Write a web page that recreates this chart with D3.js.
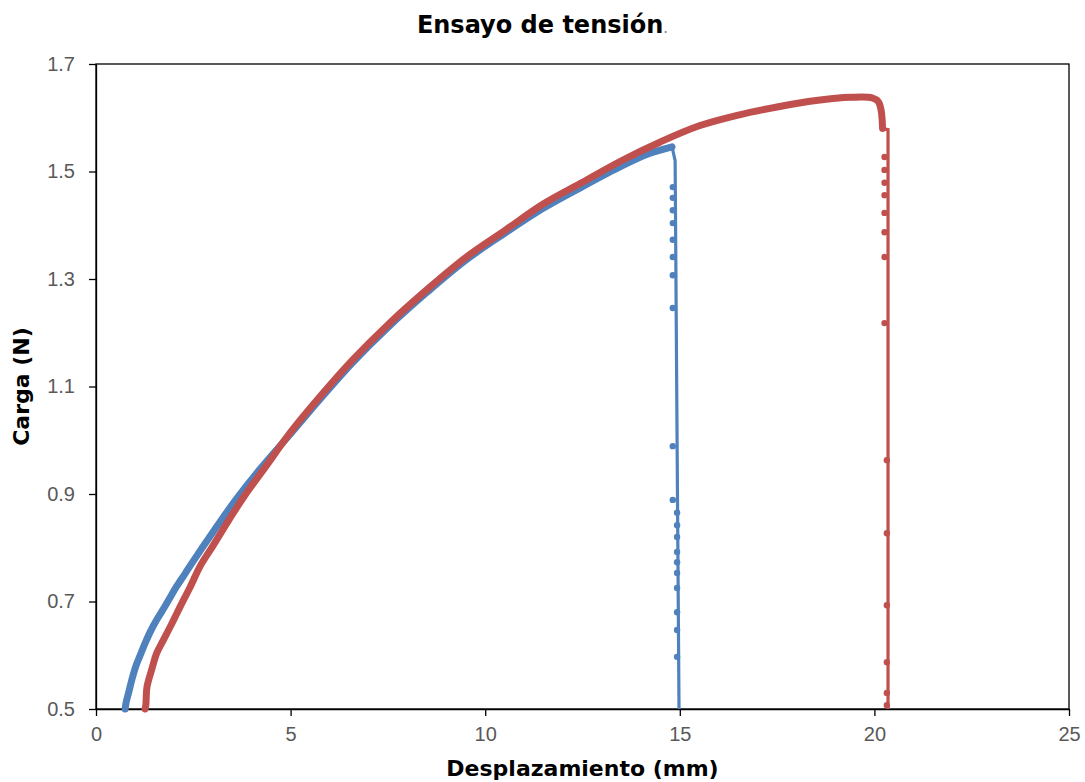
<!DOCTYPE html>
<html>
<head>
<meta charset="utf-8">
<script src="https://cdn.jsdelivr.net/npm/d3@7"></script>
<style>
  body { margin: 0; background: #fff; }
  text { font-family: "DejaVu Sans", Verdana, sans-serif; }
</style>
</head>
<body>
<div id="chart-container"></div>
<script>
// values
let xTicks = [0, 5, 10, 15, 20, 25];
let yTicks = [0.5, 0.7, 0.9, 1.1, 1.3, 1.5, 1.7];

// test 1 (blue): rising part, then the drop at break
let blueX = [0.75, 0.77, 0.84, 0.93, 1.02, 1.13, 1.26, 1.39, 1.56, 1.73, 1.90, 2.07, 2.29, 2.46, 3.06, 3.60, 4.20, 5.00, 5.80, 6.60, 7.50, 8.50, 9.50, 10.50, 11.50, 12.50, 13.50, 14.20, 14.80];
let blueY = [0.50, 0.511, 0.531, 0.557, 0.579, 0.599, 0.622, 0.643, 0.666, 0.686, 0.707, 0.728, 0.752, 0.771, 0.835, 0.89, 0.945, 1.012, 1.08, 1.145, 1.21, 1.275, 1.335, 1.385, 1.432, 1.472, 1.51, 1.533, 1.546];
let blueDropX = [14.80, 14.88, 14.93, 14.98];
let blueDropY = [1.546, 1.52, 1.0, 0.5];
let blueDotX = [14.82, 14.82, 14.82, 14.82, 14.82, 14.82, 14.82, 14.82, 14.82, 14.82, 14.93, 14.93, 14.93, 14.93, 14.93, 14.93, 14.93, 14.93, 14.93, 14.93];
let blueDotY = [1.471, 1.451, 1.428, 1.404, 1.373, 1.341, 1.307, 1.246, 0.989, 0.889, 0.865, 0.842, 0.820, 0.792, 0.773, 0.753, 0.725, 0.680, 0.647, 0.597];

// test 2 (red)
let redX = [1.26, 1.28, 1.31, 1.43, 1.56, 1.73, 1.95, 2.16, 2.42, 2.67, 3.00, 3.40, 3.80, 4.35, 5.00, 5.80, 6.60, 7.50, 8.50, 9.50, 10.50, 11.50, 12.50, 13.50, 14.50, 15.50, 16.50, 17.50, 18.50, 19.40, 19.94, 20.10, 20.17, 20.20, 20.21];
let redY = [0.50, 0.507, 0.541, 0.573, 0.604, 0.628, 0.659, 0.690, 0.727, 0.765, 0.803, 0.85, 0.895, 0.95, 1.015, 1.085, 1.15, 1.215, 1.28, 1.34, 1.39, 1.44, 1.48, 1.52, 1.555, 1.585, 1.605, 1.62, 1.632, 1.638, 1.637, 1.630, 1.615, 1.595, 1.58];
let redDropX = [20.21, 20.35, 20.35];
let redDropY = [1.58, 1.578, 0.5];
let redDotX = [20.26, 20.26, 20.26, 20.26, 20.26, 20.26, 20.26, 20.26, 20.32, 20.32, 20.32, 20.32, 20.32, 20.32];
let redDotY = [1.527, 1.503, 1.479, 1.456, 1.423, 1.387, 1.341, 1.218, 0.963, 0.827, 0.693, 0.587, 0.530, 0.507];

let blueColor = "#4F81BD",
    redColor = "#C0504D";

let margin = {top: 64, right: 16, bottom: 73, left: 96},
    totalW = 1085, totalH = 782,
    width = totalW - margin.left - margin.right,
    height = totalH - margin.top - margin.bottom;

function zip(xs, ys) {
    return xs.map((d, i) => [d, ys[i]]);
}

let root = d3.select("#chart-container")
    .append("svg")
    .attr("width", totalW)
    .attr("height", totalH);

let svg = root.append("g")
    .attr("transform", "translate(" + margin.left + "," + margin.top + ")");

let x = d3.scaleLinear().domain([0, 25]).range([0, width]);
let y = d3.scaleLinear().domain([0.5, 1.7]).range([height, 0]);

// Title
let title = root.append("text")
    .attr("x", totalW / 2)
    .attr("y", 33)
    .style("text-anchor", "middle")
    .style("font-size", "24px")
    .style("font-weight", "bold")
    .style("fill", "#000");
title.append("tspan").text("Ensayo de tensión");
title.append("tspan").text(".").style("font-weight", "normal").style("font-size", "15px").style("fill", "#7f7f7f");

// plot frame
svg.append("rect")
    .attr("width", width)
    .attr("height", height)
    .style("fill", "none")
    .style("stroke", "#000")
    .style("stroke-width", 1.3);

// axes
let xAxis = d3.axisBottom(x).tickValues(xTicks).tickSize(7).tickSizeOuter(0).tickPadding(11);
let gx = svg.append("g")
    .attr("class", "x axis")
    .attr("transform", "translate(0," + height + ")")
    .call(xAxis);

let yAxis = d3.axisLeft(y).tickValues(yTicks).tickSize(7).tickSizeOuter(0).tickPadding(14).tickFormat(d3.format(".1f"));
let gy = svg.append("g")
    .attr("class", "y axis")
    .call(yAxis);

[gx, gy].forEach(g => {
    g.select(".domain").style("stroke", "#000").style("stroke-width", 1.3);
    g.selectAll(".tick line").style("stroke", "#000").style("stroke-width", 1.3);
    g.selectAll(".tick text")
        .style("font-family", "'Liberation Sans', Arial, sans-serif")
        .style("font-size", "20px")
        .style("fill", "#595959");
});

// axis titles
svg.append("text")
    .attr("x", width / 2)
    .attr("y", height + 67)
    .style("text-anchor", "middle")
    .style("font-size", "22px")
    .style("font-weight", "bold")
    .text("Desplazamiento (mm)");

svg.append("text")
    .attr("transform", "rotate(-90)")
    .attr("x", -height / 2)
    .attr("y", -67)
    .style("text-anchor", "middle")
    .style("font-size", "22px")
    .style("font-weight", "bold")
    .text("Carga (N)");

let curve = d3.line()
    .x(d => x(d[0]))
    .y(d => y(d[1]))
    .curve(d3.curveCatmullRom);

let straight = d3.line()
    .x(d => x(d[0]))
    .y(d => y(d[1]));

function drawSeries(rx, ry, dx, dy, px, py, color) {
    svg.append("path")
        .datum(zip(dx, dy))
        .attr("d", straight)
        .style("fill", "none")
        .style("stroke", color)
        .style("stroke-width", 3.2);
    svg.selectAll(null)
        .data(zip(px, py))
        .enter()
        .append("circle")
        .attr("cx", d => x(d[0]))
        .attr("cy", d => y(d[1]))
        .attr("r", 3.2)
        .style("fill", color);
    svg.append("path")
        .datum(zip(rx, ry))
        .attr("d", curve)
        .style("fill", "none")
        .style("stroke", color)
        .style("stroke-width", 7)
        .style("stroke-linecap", "round")
        .style("stroke-linejoin", "round");
}

drawSeries(blueX, blueY, blueDropX, blueDropY, blueDotX, blueDotY, blueColor);
drawSeries(redX, redY, redDropX, redDropY, redDotX, redDotY, redColor);
</script>
</body>
</html>
